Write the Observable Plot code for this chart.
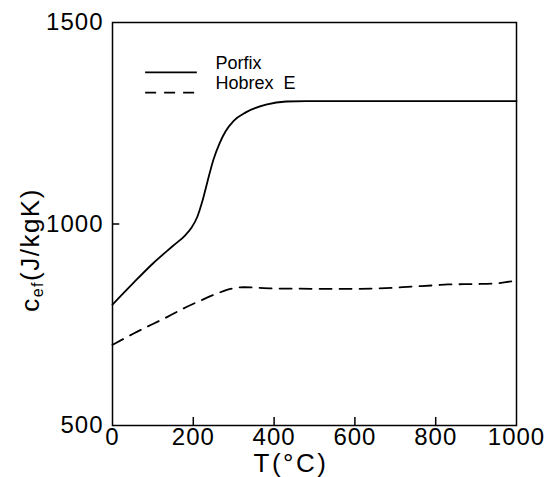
<!DOCTYPE html>
<html>
<head>
<meta charset="utf-8">
<script src="https://cdn.jsdelivr.net/npm/d3@7"></script>
<script src="https://cdn.jsdelivr.net/npm/@observablehq/plot@0.6"></script>
<style>
  html, body { margin: 0; padding: 0; background: #fff; }
  #chart { width: 547px; height: 477px; }
</style>
</head>
<body>
<div id="chart"></div>
<script>
// Series names
const seriesNames = ["Porfix", "Hobrex\u00a0\u00a0E"];

// Porfix (solid)
const porfixT = [0, 50, 100, 150, 180, 195, 210, 222, 235, 250, 265, 280, 300, 330, 380, 430, 480, 1000];
const porfixC = [800, 852, 902, 946, 972, 990, 1018, 1055, 1105, 1160, 1200, 1230, 1256, 1277, 1296, 1304, 1305, 1305];

// Hobrex E (dashed)
const hobrexT = [0, 50, 100, 135, 175, 218, 260, 292, 325, 400, 580, 700, 730, 800, 830, 900, 940, 1000];
const hobrexC = [700, 727, 752, 769, 790, 810, 828, 839, 843, 840, 839, 842, 844, 848, 850, 851, 852, 860];

// Axis ticks
const xTickLabels = [0, 200, 400, 600, 800, 1000];
const xTickMarks = [200, 400, 600, 800];
const yTickLabels = [500, 1000, 1500];
const yTickMarks = [1000];

const porfix = porfixT.map((t, i) => ({T: t, c: porfixC[i]}));
const hobrex = hobrexT.map((t, i) => ({T: t, c: hobrexC[i]}));

const font = "'Liberation Sans', Arial, Helvetica, sans-serif";

const chart = Plot.plot({
  width: 547,
  height: 477,
  marginLeft: 112,
  marginRight: 31,
  marginTop: 22,
  marginBottom: 52,
  style: {fontFamily: font, fontSize: "24px", color: "#000", background: "#fff"},
  x: {domain: [0, 1000]},
  y: {domain: [500, 1500]},
  marks: [
    Plot.axisX(xTickLabels, {tickSize: 0, tickPadding: 2, fontSize: 24, label: null, tickFormat: d => String(d)}),
    Plot.axisY(yTickLabels, {tickSize: 0, tickPadding: 9, fontSize: 24, label: null, tickFormat: d => String(d)}),
    Plot.ruleX(xTickMarks, {y1: 500, y2: 520, stroke: "#000", strokeWidth: 1.5}),
    Plot.ruleY(yTickMarks, {x1: 0, x2: 18, stroke: "#000", strokeWidth: 1.5}),
    Plot.line(porfix, {x: "T", y: "c", curve: "monotone-x", stroke: "#000", strokeWidth: 1.8}),
    Plot.line(hobrex, {x: "T", y: "c", curve: "monotone-x", stroke: "#000", strokeWidth: 1.8, strokeDasharray: "12,8"}),
    // legend
    Plot.ruleY([1376], {x1: 82, x2: 210, stroke: "#000", strokeWidth: 1.8}),
    Plot.ruleY([1326], {x1: 82, x2: 210, stroke: "#000", strokeWidth: 1.8, strokeDasharray: "11,8"}),
    Plot.text([seriesNames[0]], {x: 255, y: 1398, text: d => d, textAnchor: "start", lineAnchor: "middle", fontSize: 18, fill: "#000"}),
    Plot.text([seriesNames[1]], {x: 255, y: 1349, text: d => d, textAnchor: "start", lineAnchor: "middle", fontSize: 18, fill: "#000"}),
    Plot.frame({stroke: "#000", strokeWidth: 1.5})
  ]
});

const svg = d3.select(chart);
svg.selectAll("g[aria-label='x-axis tick label'] text, g[aria-label='y-axis tick label'] text")
  .attr("letter-spacing", 1);
// X-axis title
svg.append("text")
  .attr("x", 291).attr("y", 472)
  .attr("text-anchor", "middle")
  .attr("font-family", font).attr("font-size", 26).attr("letter-spacing", 2.5).attr("fill", "#000")
  .text("T(°C)");
// Y-axis title with subscript
const yl = svg.append("text")
  .attr("transform", "translate(39,250) rotate(-90)")
  .attr("text-anchor", "middle")
  .attr("font-family", font).attr("font-size", 26).attr("letter-spacing", 1.5).attr("fill", "#000");
yl.append("tspan").text("c");
yl.append("tspan").attr("font-size", 16).attr("dy", 4).text("ef");
yl.append("tspan").attr("dy", -4).text("(J/kgK)");

document.getElementById("chart").appendChild(chart);
</script>
</body>
</html>
